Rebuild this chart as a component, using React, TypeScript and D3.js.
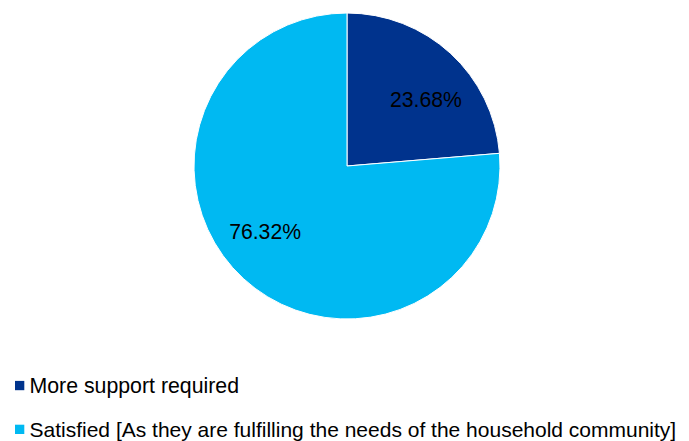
import React from "react";
import * as d3 from "d3";

const categories = [
  "More support required",
  "Satisfied [As they are fulfilling the needs of the household community]",
];
const values = [23.68, 76.32];
const labels = ["23.68%", "76.32%"];
const colors = ["#00338D", "#00B9F2"];

export default function App() {
  const W = 689;
  const H = 441;
  const cx = 347;
  const cy = 166;
  const r = 153;

  const pie = d3
    .pie<number>()
    .sort(null)
    .value((d) => d)
    .startAngle(0)
    .endAngle(2 * Math.PI);
  const arcs = pie(values);
  const arcGen = d3.arc<d3.PieArcDatum<number>>().innerRadius(0).outerRadius(r);

  const labelR = 104;
  const labelOffset = 0.14;

  return (
    <svg
      width={W}
      height={H}
      style={{ position: "absolute", left: 0, top: 0, fontFamily: "'Liberation Sans', Arial, sans-serif" }}
    >
      <rect width={W} height={H} fill="#fff" />
      <g transform={`translate(${cx},${cy})`}>
        {arcs.map((a, i) => (
          <path key={i} d={arcGen(a) || ""} fill={colors[i]} stroke="#fff" strokeWidth={1} />
        ))}
        {arcs.map((a, i) => {
          const mid = (a.startAngle + a.endAngle) / 2 + labelOffset;
          const x = Math.sin(mid) * labelR;
          const y = -Math.cos(mid) * labelR;
          return (
            <text key={i} x={x - 1.5} y={y} dy="0.35em" textAnchor="middle" fontSize={21.2} fill="#000">
              {labels[i]}
            </text>
          );
        })}
      </g>
      <g>
        {categories.map((c, i) => {
          const base = i === 0 ? 392.7 : 436.5;
          return (
            <g key={i}>
              <rect x={15} y={base - 11.8} width={9.3} height={9.3} fill={colors[i]} />
              <text x={29.5} y={base} fontSize={i === 0 ? 21.3 : 21} fill="#000">
                {c}
              </text>
            </g>
          );
        })}
      </g>
    </svg>
  );
}
